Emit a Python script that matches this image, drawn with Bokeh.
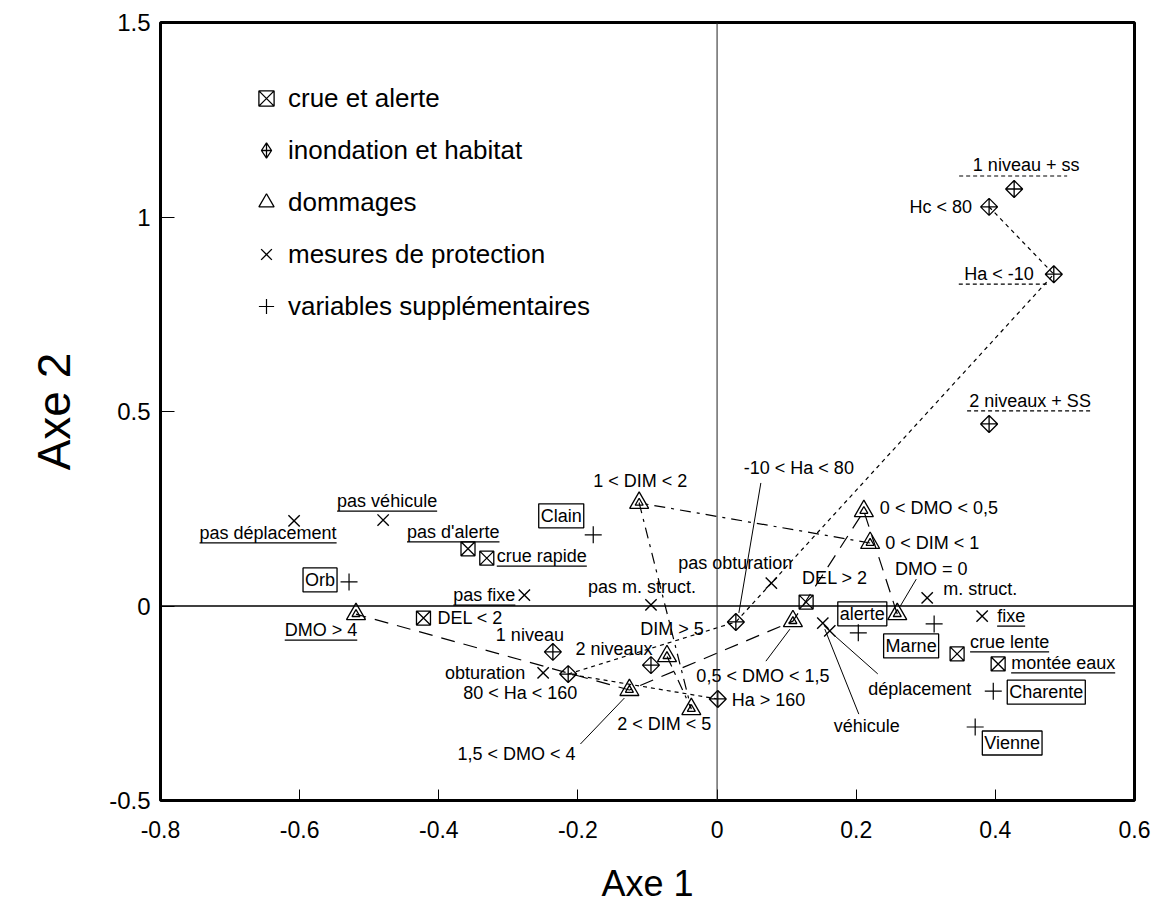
import math
from bokeh.plotting import figure
from bokeh.models import (Range1d, FixedTicker, Span, Legend, LegendItem,
                          ColumnDataSource)
from bokeh.core.properties import value
from bokeh.embed import file_html
from bokeh.resources import INLINE

# ---------------- data ----------------
x_ticks = [-0.8, -0.6, -0.4, -0.2, 0, 0.2, 0.4, 0.6]
x_tick_labels = ["-0.8", "-0.6", "-0.4", "-0.2", "0", "0.2", "0.4", "0.6"]
y_ticks = [-0.5, 0, 0.5, 1, 1.5]
y_tick_labels = ["-0.5", "0", "0.5", "1", "1.5"]

legend_labels = ["crue et alerte", "inondation et habitat", "dommages",
                 "mesures de protection", "variables supplémentaires"]

crue_labels = ["pas d'alerte", "crue rapide", "DEL < 2", "DEL > 2",
               "crue lente", "montée eaux"]
crue_x = [-0.358, -0.331, -0.422, 0.128, 0.345, 0.404]
crue_y = [0.147, 0.123, -0.031, 0.010, -0.123, -0.149]

inond_labels = ["1 niveau + ss", "Hc < 80", "Ha < -10", "2 niveaux + SS",
                "-10 < Ha < 80", "1 niveau", "80 < Ha < 160", "2 niveaux",
                "Ha > 160"]
inond_x = [0.427, 0.391, 0.484, 0.391, 0.027, -0.236, -0.214, -0.095, 0.001]
inond_y = [1.072, 1.026, 0.853, 0.468, -0.041, -0.118, -0.175, -0.152, -0.239]

domm_labels = ["DMO > 4", "1 < DIM < 2", "0 < DMO < 0,5", "0 < DIM < 1",
               "DMO = 0", "0,5 < DMO < 1,5", "DIM > 5", "1,5 < DMO < 4",
               "2 < DIM < 5"]
domm_x = [-0.519, -0.112, 0.211, 0.220, 0.259, 0.109, -0.072, -0.126, -0.037]
domm_y = [-0.021, 0.265, 0.244, 0.162, -0.021, -0.039, -0.129, -0.216, -0.265]

prot_labels = ["pas déplacement", "pas véhicule", "pas fixe", "pas m. struct.",
               "obturation", "pas obturation", "véhicule", "déplacement",
               "m. struct.", "fixe"]
prot_x = [-0.608, -0.480, -0.277, -0.095, -0.250, 0.078, 0.152, 0.162, 0.302, 0.381]
prot_y = [0.219, 0.221, 0.028, 0.003, -0.172, 0.059, -0.044, -0.064, 0.021, -0.026]

supp_labels = ["Clain", "Orb", "alerte", "Marne", "Charente", "Vienne"]
supp_x = [-0.178, -0.529, 0.203, 0.312, 0.397, 0.371]
supp_y = [0.183, 0.062, -0.069, -0.046, -0.219, -0.311]

# category chains (joined by lines)
ha_chain = ["Hc < 80", "Ha < -10", "-10 < Ha < 80", "80 < Ha < 160", "Ha > 160"]
dmo_chain = ["DMO = 0", "0 < DMO < 0,5", "0,5 < DMO < 1,5", "1,5 < DMO < 4", "DMO > 4"]
dim_chain = ["0 < DIM < 1", "1 < DIM < 2", "2 < DIM < 5", "DIM > 5"]

# ---------------- layout / style ----------------
FW, FH = 974, 778
X0, X1, Y0, Y1 = -0.8, 0.6, -0.5, 1.5
KX = FW / (X1 - X0)
KY = FH / (Y1 - Y0)
FONT = "Liberation Sans"
LBL_SIZE = 18

# label placement: dx, dy (px from marker), align, decoration
LAYOUT = {
    "pas d'alerte": (-61, -17, "left", "u"),
    "crue rapide": (10, -2, "left", "u"),
    "DEL < 2": (14, 0, "left", None),
    "DEL > 2": (-4, -24, "left", None),
    "crue lente": (13, -12, "left", "u"),
    "montée eaux": (13, -1, "left", "u"),
    "1 niveau + ss": (12, -24, "center", None),
    "Hc < 80": (-17, 0, "right", None),
    "Ha < -10": (-20, 0, "right", None),
    "2 niveaux + SS": (41, -23, "center", None),
    "-10 < Ha < 80": (63, -154, "center", None),
    "1 niveau": (-23, -17, "center", None),
    "80 < Ha < 160": (-48, 19, "center", None),
    "2 niveaux": (-37, -16, "center", None),
    "Ha > 160": (14, 1, "left", None),
    "DMO > 4": (-35, 16, "center", "u"),
    "1 < DIM < 2": (1, -22, "center", None),
    "0 < DMO < 0,5": (16, -3, "left", None),
    "0 < DIM < 1": (15, 0, "left", None),
    "DMO = 0": (34, -45, "center", None),
    "0,5 < DMO < 1,5": (-30, 55, "center", None),
    "DIM > 5": (5, -27, "center", None),
    "1,5 < DMO < 4": (-113, 64, "center", None),
    "2 < DIM < 5": (-27, 15, "center", None),
    "pas déplacement": (-26, 12, "center", "u"),
    "pas véhicule": (4, -19, "center", "u"),
    "pas fixe": (-9, 0, "right", "u"),
    "pas m. struct.": (-9, -18, "center", None),
    "obturation": (-18, 0, "right", None),
    "pas obturation": (-36, -20, "center", None),
    "véhicule": (44, 103, "center", None),
    "déplacement": (90, 58, "center", None),
    "m. struct.": (16, -9, "left", None),
    "fixe": (15, 0, "left", "u"),
    "Clain": (-32, -19, "center", "box"),
    "Orb": (-29, -2, "center", "box"),
    "alerte": (4, -19, "center", "box"),
    "Marne": (-23, 22, "center", "box"),
    "Charente": (53, 1, "center", "box"),
    "Vienne": (37, 16, "center", "box"),
}
# dashed underlines: x from, x to, dy (px from marker)
DASH_UNDER = {
    "1 niveau + ss": (-55, 53, -13),
    "Ha < -10": (-95, -7, 10),
    "2 niveaux + SS": (-22, 104, -13),
}
# leader lines: start (label side) and end (marker side), px from marker
LEADERS = {
    "-10 < Ha < 80": (25, -139, 3, -9),
    "DMO = 0": (19, -35, 3, -8),
    "0,5 < DMO < 1,5": (-27, 40, -3, 8),
    "1,5 < DMO < 4": (-49, 54, -5, 8),
    "véhicule": (36, 91, 2, 6),
    "déplacement": (48, 43, 4, 4),
}

HELV = {' ': 278, "'": 191, ',': 278, '-': 333, '.': 278, '<': 584, '=': 584,
        '>': 584, '+': 584, 'A': 667, 'C': 722, 'D': 722, 'E': 667, 'H': 722,
        'I': 278, 'L': 556, 'M': 833, 'O': 778, 'S': 667, 'V': 667, 'a': 556,
        'b': 556, 'c': 500, 'd': 556, 'e': 556, 'é': 556, 'f': 278, 'h': 556,
        'i': 222, 'l': 222, 'm': 833, 'n': 556, 'o': 556, 'p': 556, 'r': 333,
        's': 500, 't': 278, 'u': 556, 'v': 500, 'x': 500}


def text_w(s, size=LBL_SIZE):
    return sum(HELV.get(c, 556) for c in s) * size / 1000.0


# ---------------- figure ----------------
p = figure(frame_width=FW, frame_height=FH,
           x_range=Range1d(X0, X1), y_range=Range1d(Y0, Y1),
           output_backend="svg", toolbar_location=None,
           min_border_left=160, min_border_top=22, min_border_right=18,
           min_border_bottom=108)
p.background_fill_color = "white"
p.border_fill_color = "white"
p.outline_line_color = "black"
p.outline_line_width = 3
p.grid.visible = False

for ax, ticks, labels, tin in ((p.xaxis, x_ticks, x_tick_labels, 11),
                               (p.yaxis, y_ticks, y_tick_labels, 14)):
    ax.ticker = FixedTicker(ticks=ticks)
    ax.major_label_overrides = dict(zip(ticks, labels))
    ax.major_tick_in = tin
    ax.major_tick_out = 0
    ax.minor_tick_line_color = None
    ax.axis_line_color = None
    ax.major_tick_line_color = "black"
    ax.major_label_text_color = "black"
    ax.axis_label_text_color = "black"
    ax.axis_label_text_font_style = "normal"

p.xaxis.axis_label = "Axe 1"
p.xaxis.major_label_text_font = FONT
p.xaxis.major_label_text_font_size = "23px"
p.xaxis.major_label_standoff = 20
p.xaxis.axis_label_text_font = FONT
p.xaxis.axis_label_text_font_size = "36px"
p.xaxis.axis_label_standoff = 22

p.yaxis.axis_label = "Axe 2"
p.yaxis.major_label_text_font = FONT
p.yaxis.major_label_text_font_size = "24px"
p.yaxis.major_label_standoff = 10
p.yaxis.axis_label_text_font = FONT
p.yaxis.axis_label_text_font_size = "46px"
p.yaxis.axis_label_standoff = 26

p.add_layout(Span(location=0, dimension="width", line_color="black", line_width=1.5))
p.add_layout(Span(location=0, dimension="height", line_color="#222222", line_width=1))

pos = {}
for labs, xs, ys in ((crue_labels, crue_x, crue_y), (inond_labels, inond_x, inond_y),
                     (domm_labels, domm_x, domm_y), (prot_labels, prot_x, prot_y),
                     (supp_labels, supp_x, supp_y)):
    for l, x, y in zip(labs, xs, ys):
        pos[l] = (x, y)


def chain_xy(chain):
    return [pos[c][0] for c in chain], [pos[c][1] for c in chain]


cx, cy = chain_xy(ha_chain)
p.line(cx, cy, line_color="black", line_width=1.2, line_dash="4 4")
cx, cy = chain_xy(dmo_chain)
p.line(cx, cy, line_color="black", line_width=1.2, line_dash="14 9")
cx, cy = chain_xy(dim_chain)
p.line(cx, cy, line_color="black", line_width=1.2, line_dash="11 6 3 6")

# leader lines
lx0, ly0, lx1, ly1 = [], [], [], []
for lab, (sx, sy, ex, ey) in LEADERS.items():
    x, y = pos[lab]
    lx0.append(x + sx / KX); ly0.append(y - sy / KY)
    lx1.append(x + ex / KX); ly1.append(y - ey / KY)
p.segment(lx0, ly0, lx1, ly1, line_color="black", line_width=1)

# markers
mk = dict(line_color="black", fill_color=None, line_width=1.3)
r_crue = p.scatter(crue_x, crue_y, marker="square_x", size=14, **mk)
p.scatter(inond_x, inond_y, marker="square_x", angle=math.pi / 4, size=12, **mk)
# legend proxy for the diamond-with-cross symbol (zero size in the plot)
r_inond = p.scatter(inond_x, inond_y, marker="diamond_cross", size=0, **mk)
r_domm = p.scatter(domm_x, domm_y, marker="triangle", size=19, **mk)
p.scatter(domm_x, domm_y, marker="triangle", size=8, **mk)
r_prot = p.scatter(prot_x, prot_y, marker="x", size=16, line_color="black",
                   line_width=1.4)
r_supp = p.scatter(supp_x, supp_y, marker="cross", size=17, line_color="black",
                   line_width=1.2)

# labels
groups = {}
ux0, uy0, ux1, uy1 = [], [], [], []
for lab, (dx, dy, align, deco) in LAYOUT.items():
    x, y = pos[lab]
    key = "box" if deco == "box" else align
    g = groups.setdefault(key, dict(x=[], y=[], text=[], dx=[], dy=[]))
    g["x"].append(x); g["y"].append(y); g["text"].append(lab)
    g["dx"].append(dx); g["dy"].append(dy)
    if deco == "u":
        w = text_w(lab)
        if align == "left":
            a0, a1 = dx, dx + w
        elif align == "right":
            a0, a1 = dx - w, dx
        else:
            a0, a1 = dx - w / 2, dx + w / 2
        uy = dy + 10
        ux0.append(x + a0 / KX); ux1.append(x + a1 / KX)
        uy0.append(y - uy / KY); uy1.append(y - uy / KY)

p.segment(ux0, uy0, ux1, uy1, line_color="black", line_width=1.3)

dx0, dy0, dx1, dy1 = [], [], [], []
for lab, (a0, a1, dy) in DASH_UNDER.items():
    x, y = pos[lab]
    dx0.append(x + a0 / KX); dx1.append(x + a1 / KX)
    dy0.append(y - dy / KY); dy1.append(y - dy / KY)
p.segment(dx0, dy0, dx1, dy1, line_color="black", line_width=1.2, line_dash="4 3")

for key, g in groups.items():
    src = ColumnDataSource(g)
    kw = dict(x="x", y="y", text="text", x_offset="dx", y_offset="dy",
              text_font=value(FONT), text_font_size=f"{LBL_SIZE}px",
              text_color="black", text_baseline="middle", source=src)
    if key == "box":
        p.text(text_align="center", border_line_color="black",
               border_line_width=1.3, padding=2, **kw)
    else:
        p.text(text_align=key, **kw)

# legend
legend = Legend(items=[LegendItem(label=l, renderers=[r]) for l, r in
                       zip(legend_labels, [r_crue, r_inond, r_domm, r_prot, r_supp])],
                location=(87, 475), glyph_width=38, glyph_height=38, spacing=14,
                padding=0, margin=0, label_standoff=3,
                label_text_font=FONT, label_text_font_size="26px",
                label_text_color="black",
                border_line_color=None, background_fill_alpha=0)
p.add_layout(legend)

open("out.html", "w").write(file_html(p, INLINE))
